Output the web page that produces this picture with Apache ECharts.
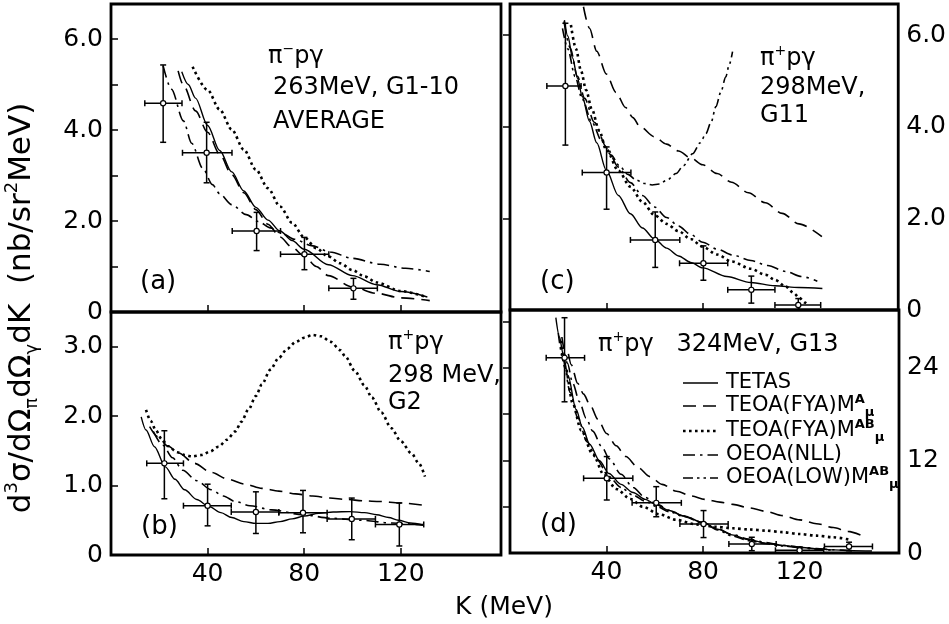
<!DOCTYPE html>
<html><head><meta charset="utf-8">
<script src="https://cdn.jsdelivr.net/npm/echarts@6/dist/echarts.min.js"></script>
<style>html,body{margin:0;padding:0;background:#fff}#c{width:949px;height:624px}</style>
</head><body><div id="c"></div>
<script>
// ---------- tick labels ----------
const xTicks = [40, 80, 120];
const aYLabels = [0, 2, 4, 6], aYTicks = [1, 2, 3, 4, 5, 6];
const bYLabels = [0, 1, 2, 3], bYTicks = [1, 2, 3];
const cYLabels = [0, 2, 4, 6], cYTicks = [2, 4, 6];
const dYLabels = [0, 12, 24], dYTicks = [6, 12, 18, 24, 30];

const names = ['TETAS', 'TEOA(FYA)M^A', 'TEOA(FYA)M^AB', 'OEOA(NLL)', 'OEOA(LOW)M^AB'];

// ---------- panel (a): pi- p gamma 263 MeV ----------
const aK   = [21.6, 39.6, 60.3, 80.1, 100.4];
const aV   = [4.59, 3.50, 1.78, 1.27, 0.52];
const aKlo = [14.0, 29.6, 50.2, 70.2, 90.2];
const aKhi = [29.4, 50.1, 70.2, 90.2, 110.3];
const aVlo = [3.73, 2.84, 1.35, 0.93, 0.28];
const aVhi = [5.43, 4.17, 2.19, 1.64, 0.74];
const aSolid = [[29.3,5.28],[32,5.0],[35,4.7],[40,4.1],[45,3.55],[50,3.08],[55,2.66],[60,2.3],[65,2.02],[70,1.78],[75,1.57],[80,1.38],[90,1.04],[100,0.8],[110,0.6],[120,0.45],[131,0.33]];
const aDashed = [[27.8,5.3],[30,4.98],[35,4.42],[40,3.95],[45,3.47],[50,3.02],[55,2.62],[60,2.25],[65,1.93],[70,1.65],[75,1.42],[80,1.23],[85,1.0],[90,0.8],[100,0.55],[110,0.41],[120,0.31],[132,0.25]];
const aDotted = [[33.8,5.39],[40,4.88],[45,4.45],[50,4.01],[55,3.57],[60,3.13],[65,2.72],[70,2.32],[75,1.96],[80,1.64],[85,1.4],[90,1.22],[95,1.07],[100,0.92],[105,0.78],[110,0.65],[120,0.46],[131,0.32]];
const aDashDot = [[21.6,5.41],[25,4.9],[30,4.2],[33.4,3.71],[38,3.16],[42,2.8],[45,2.6],[50,2.36],[56,2.14],[61,1.99],[66,1.85],[71,1.72],[76,1.6],[83,1.46],[90.7,1.32],[100,1.18],[111.4,1.05],[122,0.96],[132,0.89]];

// ---------- panel (b): pi+ p gamma 298 MeV, G2 ----------
const bK   = [22.1, 40.0, 60.0, 79.5, 99.7, 119.4];
const bV   = [1.32, 0.71, 0.62, 0.61, 0.52, 0.44];
const bKlo = [14.8, 30.0, 49.8, 69.5, 89.5, 109.5];
const bKhi = [30.0, 49.8, 69.5, 89.5, 109.5, 129.5];
const bVlo = [0.81, 0.42, 0.31, 0.32, 0.22, 0.13];
const bVhi = [1.79, 1.02, 0.91, 0.93, 0.82, 0.75];
const bSolid = [[12.5,1.99],[14.5,1.8],[18,1.56],[22.5,1.27],[26.5,1.09],[30.5,0.94],[35.5,0.8],[40.5,0.7],[45.5,0.61],[50,0.54],[55,0.48],[60,0.455],[65,0.455],[70,0.48],[75,0.52],[80,0.56],[86,0.6],[92,0.62],[99,0.625],[105,0.61],[110,0.58],[115,0.54],[119,0.5],[124,0.46],[129.5,0.43]];
const bDashed = [[16,1.85],[19.5,1.7],[23.5,1.57],[28,1.47],[34.5,1.32],[41.5,1.19],[48.5,1.09],[55.5,1.02],[62.5,0.96],[69.5,0.92],[76.5,0.88],[83.5,0.85],[90.5,0.82],[97.5,0.8],[104.5,0.78],[111.5,0.77],[119.5,0.75],[128.7,0.72]];
const bDotted = [[14.5,2.09],[16.5,1.93],[18.5,1.8],[21,1.67],[23.5,1.57],[27.5,1.48],[30.5,1.44],[33.5,1.42],[37.5,1.44],[41,1.49],[44.5,1.56],[48,1.66],[51.5,1.78],[54,1.92],[57,2.1],[60,2.29],[62.5,2.46],[66,2.67],[69.5,2.84],[73,2.97],[76.5,3.07],[80,3.13],[83.5,3.17],[87,3.15],[91,3.07],[95,2.95],[97,2.86],[101,2.65],[105,2.44],[108,2.27],[112,2.05],[116,1.83],[120,1.64],[124.5,1.46],[127.5,1.32],[130,1.13]];
const bDashDot = [[17.5,1.78],[21.5,1.58],[25.5,1.4],[29.7,1.22],[35.5,1.07],[41.5,0.94],[46.5,0.85],[51.5,0.77],[57.5,0.71],[66.5,0.65],[79.5,0.58],[91,0.53],[103.5,0.5],[116.5,0.46],[129.5,0.43]];

// ---------- panel (c): pi+ p gamma 298 MeV, G11 ----------
const cK   = [23.0, 40.1, 60.3, 80.3, 100.2, 119.7];
const cV   = [4.89, 3.0, 1.53, 1.02, 0.44, 0.11];
const cKlo = [15.3, 30.0, 50.0, 70.4, 90.4, 110.0];
const cKhi = [29.5, 50.2, 70.5, 90.4, 110.0, 129.0];
const cVlo = [3.60, 2.20, 0.93, 0.65, 0.15, 0.0];
const cVhi = [6.26, 3.56, 2.14, 1.40, 0.74, 0.25];
const cSolid = [[22.6,6.33],[24,5.98],[26,5.5],[28,5.06],[30,4.66],[33,4.12],[36,3.65],[40,3.05],[45,2.5],[50,2.1],[55,1.79],[60,1.55],[65,1.35],[70,1.18],[75,1.04],[80,0.92],[90,0.73],[100,0.6],[110,0.53],[120,0.49],[129.7,0.47]];
const cDashed = [[30.5,6.62],[33,6.15],[36,5.65],[40,5.15],[44,4.75],[48,4.42],[51,4.2],[54,4.0],[60,3.78],[65,3.62],[70,3.47],[75,3.32],[80,3.17],[86,2.98],[92,2.79],[99,2.56],[106,2.34],[113,2.11],[120,1.88],[129.5,1.6]];
const cDotted = [[25.3,6.22],[27.4,5.7],[29.5,5.22],[31.6,4.8],[34,4.38],[37,3.92],[40,3.5],[45,3.04],[50,2.69],[55,2.36],[60,2.07],[65,1.88],[70,1.72],[75,1.55],[80,1.38],[86,1.21],[92,1.06],[100,0.9],[106,0.77],[110,0.66],[114.5,0.51],[118,0.36],[120,0.27],[122.5,0.16],[124,0.1]];
const cDashDot = [[22.4,6.3],[25,5.72],[28,5.1],[31,4.62],[35,4.1],[40,3.56],[45,3.12],[50,2.78],[55,2.5],[60,2.25],[65,2.02],[70,1.83],[75,1.65],[80,1.48],[86,1.33],[92.4,1.2],[100,1.08],[107,0.97],[114.5,0.84],[121,0.73],[127.6,0.63]];
const cDashDotDot = [[21.8,6.15],[24,5.7],[27,5.1],[30,4.6],[34,4.1],[38,3.7],[42,3.38],[45.4,3.15],[49,2.96],[52.3,2.84],[56,2.76],[59,2.73],[62,2.75],[65,2.83],[69,2.98],[72,3.15],[75.8,3.41],[79,3.65],[81.3,3.85],[83.5,4.1],[85.5,4.44],[87.5,4.75],[89.6,5.09],[91,5.35],[92.4,5.64]];

// ---------- panel (d): pi+ p gamma 324 MeV, G13 ----------
const dK   = [22.6, 40.1, 60.6, 80.2, 100.2, 120.0, 140.5];
const dV   = [25.3, 9.68, 6.5, 3.76, 1.17, 0.35, 0.85];
const dKlo = [15.0, 30.5, 50.6, 70.4, 90.7, 110.0, 130.3];
const dKhi = [30.9, 50.9, 71.0, 90.4, 110.3, 130.0, 150.2];
const dVlo = [19.6, 6.87, 4.7, 2.0, 0.3, 0.0, 0.3];
const dVhi = [30.5, 12.5, 8.6, 5.5, 2.04, 0.7, 1.4];
const dSolid = [[19,30.5],[20.5,28],[22,25.8],[24,23],[27.4,18.6],[30,16.3],[33,14.1],[37,12],[41,10.3],[46,8.9],[51,7.85],[56,6.95],[61,6.2],[66,5.5],[72,4.8],[80,3.95],[86,3.1],[92,2.35],[99,1.72],[106,1.28],[113,0.98],[120,0.75],[127,0.55],[134,0.4],[142,0.3],[150,0.25]];
const dDashed = [[24.2,25.8],[25.4,24.4],[28,22],[30.5,20.6],[33,19.3],[36.5,17.3],[40,15.5],[44,13.9],[48,12.5],[53,11.1],[58,9.9],[63,8.9],[69,8.0],[75,7.4],[81,6.95],[87,6.6],[92.4,6.3],[99,5.85],[106,5.4],[113,4.85],[120,4.3],[127,3.8],[134,3.3],[140,2.8],[147,2.1]];
const dDotted = [[21,27.5],[23,24],[26,19.4],[29.5,15.9],[34.3,12.8],[39,10.1],[44,8.3],[50,7.0],[55,6.0],[62,5.0],[68.9,4.3],[77.2,3.7],[85,3.4],[92.4,3.2],[99,3.05],[106.2,2.9],[113,2.7],[120,2.46],[127,2.25],[133.8,2.04],[141.4,1.69]];
const dDashDot = [[21.5,28],[23.8,24.6],[26,22],[28.8,19.6],[31.5,17.5],[34.3,15.8],[38,13.8],[41.2,12.2],[46,10.2],[51,8.5],[56,7.2],[61,6.3],[66,5.55],[72,4.8],[80,3.95],[86,3.15],[92,2.4],[99,1.8],[106,1.35],[113,1.0],[120,0.78],[127,0.57],[134,0.42],[142,0.3]];
const dDashDotDot = [[20,28.5],[22,25],[25,20.8],[28,17.6],[32,14.4],[36,12.1],[41,9.9],[46,8.5],[51,7.5],[56,6.7],[61,6.0],[66,5.35],[72,4.7],[80,3.9],[86,3.0],[92,2.2],[99,1.6],[106,1.2],[113,0.9],[120,0.7],[127,0.5],[134,0.35]];

// ---------- rendering ----------
const F = 'DejaVu Sans';
const STY = {
  'TETAS': {type: 'solid', width: 1.4},
  'TEOA(FYA)M^A': {type: [13, 7], width: 1.6},
  'TEOA(FYA)M^AB': {type: [2.6, 3.4], width: 2.6},
  'OEOA(NLL)': {type: [12, 5, 2.5, 5], width: 1.6},
  'OEOA(LOW)M^AB': {type: [10, 4, 2.5, 4, 2.5, 4], width: 1.6}
};
function curve(name, data, gi) {
  return {type: 'line', name, xAxisIndex: gi, yAxisIndex: gi, data, symbol: 'none', showSymbol: false,
    smooth: 0.3, smoothMonotone: 'x', silent: true, animation: false, z: 3,
    itemStyle: {color: '#000'}, lineStyle: Object.assign({color: '#000'}, STY[name])};
}
function pts(K, V, Klo, Khi, Vlo, Vhi) {
  return K.map((k, i) => [k, V[i], Klo[i], Khi[i], Vlo[i], Vhi[i]]);
}
function renderErr(params, api) {
  const x = api.value(0), y = api.value(1);
  const c = api.coord([x, y]);
  const l = api.coord([api.value(2), y]), r = api.coord([api.value(3), y]);
  const b = api.coord([x, api.value(4)]), t = api.coord([x, api.value(5)]);
  const cap = 3, st = {stroke: '#000', lineWidth: 1.5};
  const L = (x1, y1, x2, y2) => ({type: 'line', shape: {x1, y1, x2, y2}, style: st});
  return {type: 'group', children: [
    L(l[0], c[1], r[0], c[1]), L(l[0], c[1] - cap, l[0], c[1] + cap), L(r[0], c[1] - cap, r[0], c[1] + cap),
    L(c[0], b[1], c[0], t[1]), L(c[0] - cap, b[1], c[0] + cap, b[1]), L(c[0] - cap, t[1], c[0] + cap, t[1]),
    {type: 'circle', shape: {cx: c[0], cy: c[1], r: 2.6}, style: {fill: '#fff', stroke: '#000', lineWidth: 1.2}}
  ]};
}
function errSeries(data, gi) {
  return {type: 'custom', xAxisIndex: gi, yAxisIndex: gi, data, renderItem: renderErr,
    encode: {x: 0, y: 1}, silent: true, animation: false, clip: false, z: 5};
}
function grid(left, top, width, height) {
  return {left, top, width, height, show: true, borderColor: '#000', borderWidth: 2.8, containLabel: false};
}
function xAx(gi, max, showLabels) {
  return {type: 'value', gridIndex: gi, min: 0, max, axisLine: {show: false}, splitLine: {show: false},
    axisTick: {show: true, inside: true, length: 7, customValues: xTicks, lineStyle: {color: '#000', width: 1.5}},
    axisLabel: {show: showLabels, customValues: xTicks, color: '#000', fontSize: 25, fontFamily: F, margin: 7}};
}
function yAx(gi, max, pos, ticks, labels, fmt) {
  return {type: 'value', gridIndex: gi, min: 0, max, position: pos, axisLine: {show: false}, splitLine: {show: false},
    axisTick: {show: true, inside: true, length: 7, customValues: ticks, lineStyle: {color: '#000', width: 1.5}},
    axisLabel: {customValues: labels, formatter: fmt, color: '#000', fontSize: 25, fontFamily: F, margin: 8}};
}
const fmt1 = v => v === 0 ? '0' : v.toFixed(1);
const fmt0 = v => String(v);

const series = [];
[[aSolid, aDashed, aDotted, aDashDot, null], [bSolid, bDashed, bDotted, bDashDot, null],
 [cSolid, cDashed, cDotted, cDashDot, cDashDotDot], [dSolid, dDashed, dDotted, dDashDot, dDashDotDot]]
  .forEach((arr, gi) => arr.forEach((d, j) => { if (d) series.push(curve(names[j], d, gi)); }));
series.push(errSeries(pts(aK, aV, aKlo, aKhi, aVlo, aVhi), 0));
series.push(errSeries(pts(bK, bV, bKlo, bKhi, bVlo, bVhi), 1));
series.push(errSeries(pts(cK, cV, cKlo, cKhi, cVlo, cVhi), 2));
series.push(errSeries(pts(dK, dV, dKlo, dKhi, dVlo, dVhi), 3));

// legend (key) drawn as graphic: sample line + rich text
const legendText = ['TETAS', 'TEOA(FYA)M{sup|A}{sub|μ}', 'TEOA(FYA)M{sup|AB}{sub|μ}', 'OEOA(NLL)', 'OEOA(LOW)M{sup|AB}{sub|μ}'];
const legendRowY = [383, 406, 431, 455, 478];
const supSubRich = {
  m: {fontSize: 21, fontFamily: F, lineHeight: 26},
  sup: {fontSize: 13, fontWeight: 'bold', verticalAlign: 'top', fontFamily: F, lineHeight: 26},
  sub: {fontSize: 13, fontWeight: 'bold', verticalAlign: 'bottom', fontFamily: F, lineHeight: 26}
};
const legendGraphics = [];
names.forEach((n, i) => {
  const s = STY[n], y = legendRowY[i];
  legendGraphics.push({type: 'line', silent: true, shape: {x1: 683, y1: y, x2: 718, y2: y},
    style: {stroke: '#000', lineWidth: s.width, lineDash: Array.isArray(s.type) ? s.type : null}});
  legendGraphics.push({type: 'text', silent: true, x: 726, y, style: {
    text: legendText[i].replace(/^([^{]+)/, '{m|$1}'), fontFamily: F, fontSize: 21, fill: '#000',
    align: 'left', verticalAlign: 'middle', lineHeight: 26, rich: supSubRich}});
});

function txt(x, y, text, size) {
  return {type: 'text', x, y, silent: true, style: {text, fontFamily: F, fontSize: size || 24, fill: '#000',
    verticalAlign: 'middle', align: 'left', lineHeight: 30,
    rich: {sup: {fontSize: 14, verticalAlign: 'top', fontFamily: F, lineHeight: 30}, m: {fontSize: size || 24, fontFamily: F, lineHeight: 30}}}};
}

const chart = echarts.init(document.getElementById('c'), null, {renderer: 'canvas'});
chart.setOption({
  animation: false,
  backgroundColor: '#fff',
  grid: [grid(111, 4, 390, 308), grid(111, 312, 390, 243), grid(510, 4, 389, 306), grid(510, 310, 389, 243)],
  xAxis: [xAx(0, 161.5, false), xAx(1, 161.5, true), xAx(2, 161.2, false), xAx(3, 161.2, true)],
  yAxis: [yAx(0, 6.77, 'left', aYTicks, aYLabels, fmt1), yAx(1, 3.5, 'left', bYTicks, bYLabels, fmt1),
          yAx(2, 6.68, 'right', cYTicks, cYLabels, fmt1), yAx(3, 31.5, 'right', dYTicks, dYLabels, fmt0)],
  series,
  graphic: legendGraphics.concat([
    txt(268, 57, '{m|π}{sup|−}{m|pγ}'), txt(273, 88, '263MeV, G1-10'), txt(273, 122, 'AVERAGE'), txt(140, 282, '(a)', 26),
    txt(760, 59, '{m|π}{sup|+}{m|pγ}'), txt(760, 88, '298MeV,'), txt(760, 116, 'G11'), txt(540, 282, '(c)', 26),
    txt(388, 343, '{m|π}{sup|+}{m|pγ}'), txt(388, 376, '298 MeV,'), txt(388, 403, 'G2'), txt(141, 527, '(b)', 26),
    txt(598, 345, '{m|π}{sup|+}{m|pγ   324MeV, G13}'), txt(540, 525, '(d)', 26),
    {type: 'text', x: 504, y: 607, silent: true, style: {text: 'K (MeV)', fontFamily: F, fontSize: 25, fill: '#000', align: 'center', verticalAlign: 'middle'}},
    {type: 'text', x: 22, y: 308, rotation: Math.PI / 2, silent: true, style: {
      text: '{m|d}{sup|3}{m|σ/dΩ}{sub|π}{m|dΩ}{sub|γ}{m|dK  (nb/sr}{sup|2}{m|MeV)}', fontFamily: F, fontSize: 31, fill: '#000',
      align: 'center', verticalAlign: 'middle', lineHeight: 38,
      rich: {m: {fontSize: 31, fontFamily: F, lineHeight: 38}, sup: {fontSize: 18, fontFamily: F, verticalAlign: 'top', lineHeight: 38},
             sub: {fontSize: 18, fontFamily: F, verticalAlign: 'bottom', lineHeight: 38}}}}
  ])
});
</script></body></html>
